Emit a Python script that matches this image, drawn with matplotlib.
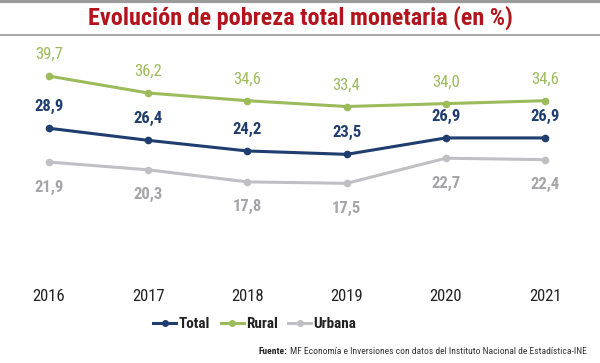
import matplotlib.pyplot as plt
from matplotlib.lines import Line2D
from matplotlib import font_manager

# datos
anios = [2016, 2017, 2018, 2019, 2020, 2021]
total = [28.9, 26.4, 24.2, 23.5, 26.9, 26.9]
rural = [39.7, 36.2, 34.6, 33.4, 34.0, 34.6]
urbana = [21.9, 20.3, 17.8, 17.5, 22.7, 22.4]

c_total = "#1f3d6e"
c_rural = "#9cbb5b"
c_urbana = "#c0c0c4"

# fuente estrecha si existe
nombres = set(f.name for f in font_manager.fontManager.ttflist)
fam = ["DejaVu Sans"]
for n in ["Liberation Sans Narrow", "Roboto Condensed", "Open Sans Condensed", "DejaVu Sans"]:
    if n in nombres:
        fam = [n, "DejaVu Sans"]
        break
estr = "condensed"

fig = plt.figure(figsize=(6.0, 3.63), dpi=100)
ax = fig.add_axes([0.0155, 0.262, 0.959, 0.6256])

def fmt(v):
    return ("%.1f" % v).replace(".", ",")

series = [(rural, c_rural, c_rural, 15.5, "normal"), (total, c_total, c_total, 15.5, "semibold"),
          (urbana, c_urbana, "#a5a5a9", -18, "semibold")]
for vals, col, tcol, off, w in series:
    ax.plot(anios, vals, "-o", color=col, lw=2.2, ms=4.5)
    for x, v in zip(anios, vals):
        ax.annotate(fmt(v), (x, v), xytext=(0, off), textcoords="offset points",
                    ha="center", va="center", fontsize=12, color=tcol, family=fam,
                    fontstretch=estr, fontweight=w)

ax.set_xlim(2015.6, 2021.4)
ax.set_ylim(0, 47)
for s in ax.spines.values():
    s.set_visible(False)
ax.set_yticks([])
ax.set_xticks(anios)
ax.set_xticklabels([str(a) for a in anios], family=fam, fontsize=12, color="#222222",
                   fontstretch=estr)
ax.tick_params(axis="x", length=0, pad=15)

# titulo y lineas grises
fig.text(0.5, 0.952, "Evolución de pobreza total monetaria (en %)", ha="center", va="center",
         fontsize=17.4, fontweight="bold", color="#b3141c", family=fam, fontstretch=estr)
fig.add_artist(Line2D([0, 1], [0.996, 0.996], color="#9a9a9a", lw=3))
fig.add_artist(Line2D([0, 1], [0.903, 0.903], color="#9a9a9a", lw=1.2))

# leyenda
handles = [Line2D([], [], color=c, lw=2.2, marker="o", ms=4) for c in (c_total, c_rural, c_urbana)]
leg = fig.legend(handles, ["Total", "Rural", "Urbana"], loc="center", bbox_to_anchor=(0.425, 0.107),
                 ncol=3, frameon=False, handlelength=1.5, handletextpad=0.15, columnspacing=0.7,
                 prop={"family": fam, "size": 11, "weight": "bold", "stretch": estr})
for t in leg.get_texts():
    t.set_color("#222222")

# fuente
t1 = fig.text(0.978, 0.032, "MF Economía e Inversiones con datos del Instituto Nacional de Estadística-INE",
              ha="right", va="center", fontsize=6.8, color="#333333", family=fam, fontstretch=estr)
fig.canvas.draw()
bb = t1.get_window_extent()
fig.text(bb.x0 / fig.bbox.width - 0.004, 0.032, "Fuente:", ha="right", va="center", fontsize=6.8,
         fontweight="bold", color="#222222", family=fam, fontstretch=estr)

fig.savefig("out.png", dpi=100, facecolor="white")
